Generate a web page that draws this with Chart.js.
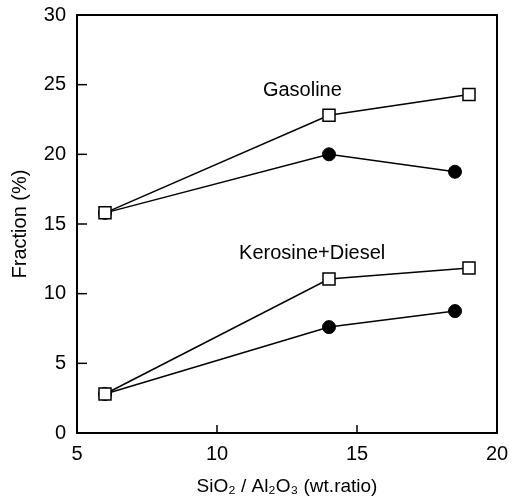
<!DOCTYPE html>
<html>
<head>
<meta charset="utf-8">
<script src="https://cdn.jsdelivr.net/npm/chart.js@4/dist/chart.umd.min.js"></script>
<style>
html,body{margin:0;padding:0;background:#fff;}
#wrap{width:512px;height:502px;}
</style>
</head>
<body>
<div id="wrap"><canvas id="c" width="512" height="502"></canvas></div>
<script>
// Data
const ratioA = [6, 14, 19];          // x for open-square series
const ratioB = [6, 14, 18.5];        // x for filled-circle series
const gasolineOpen = [15.8, 22.8, 24.3];
const gasolineFilled = [15.8, 20.0, 18.75];
const keroDieselOpen = [2.8, 11.05, 11.85];
const keroDieselFilled = [2.8, 7.6, 8.75];
const xTicks = [5, 10, 15, 20];
const yTicks = [0, 5, 10, 15, 20, 25, 30];
const labelsText = ["Gasoline", "Kerosine+Diesel"];
const labelsX = [13.05, 13.4];
const labelsY = [24.6, 12.9];

const pts = (xs, ys) => xs.map((x, i) => ({x: x, y: ys[i]}));
const FONT = "'Liberation Sans', Arial, sans-serif";

const openStyle = {
  borderColor: '#000', borderWidth: 1.5,
  pointStyle: 'rect', pointRadius: 8.5, pointHoverRadius: 8.5,
  pointBackgroundColor: '#fff', pointBorderColor: '#000', pointBorderWidth: 1.5,
  showLine: true, fill: false, tension: 0
};
const filledStyle = {
  borderColor: '#000', borderWidth: 1.5,
  pointStyle: 'circle', pointRadius: 6.5, pointHoverRadius: 6.5,
  pointBackgroundColor: '#000', pointBorderColor: '#000', pointBorderWidth: 1,
  showLine: true, fill: false, tension: 0
};

const framePlugin = {
  id: 'frame',
  afterDatasetsDraw(chart) {
    const {ctx, chartArea: a, scales} = chart;
    ctx.save();
    ctx.strokeStyle = '#000';
    ctx.lineWidth = 1.5;
    yTicks.forEach(v => {
      if (v === yTicks[0] || v === yTicks[yTicks.length - 1]) return;
      const y = scales.y.getPixelForValue(v);
      ctx.beginPath(); ctx.moveTo(a.left, y); ctx.lineTo(a.left + 10, y); ctx.stroke();
    });
    xTicks.forEach(v => {
      if (v === xTicks[0] || v === xTicks[xTicks.length - 1]) return;
      const x = scales.x.getPixelForValue(v);
      ctx.beginPath(); ctx.moveTo(x, a.bottom); ctx.lineTo(x, a.bottom - 8); ctx.stroke();
    });
    ctx.lineWidth = 2;
    ctx.strokeRect(a.left, a.top, a.right - a.left, a.bottom - a.top);
    ctx.fillStyle = '#000';
    ctx.font = '20px ' + FONT;
    ctx.textAlign = 'center';
    ctx.textBaseline = 'middle';
    labelsText.forEach((t, i) => {
      ctx.fillText(t, scales.x.getPixelForValue(labelsX[i]), scales.y.getPixelForValue(labelsY[i]));
    });
    ctx.restore();
  }
};

new Chart(document.getElementById('c'), {
  type: 'scatter',
  data: {
    datasets: [
      Object.assign({label: 'Gasoline (open)', data: pts(ratioA, gasolineOpen)}, openStyle),
      Object.assign({label: 'Kerosine+Diesel (open)', data: pts(ratioA, keroDieselOpen)}, openStyle),
      Object.assign({label: 'Gasoline (filled)', data: pts(ratioB, gasolineFilled)}, filledStyle),
      Object.assign({label: 'Kerosine+Diesel (filled)', data: pts(ratioB, keroDieselFilled)}, filledStyle)
    ]
  },
  options: {
    responsive: false,
    animation: false,
    events: [],
    layout: {padding: {top: 15, right: 15, left: 0, bottom: 0}},
    plugins: {legend: {display: false}, tooltip: {enabled: false}},
    scales: {
      x: {
        type: 'linear', min: 5, max: 20,
        afterBuildTicks: s => { s.ticks = xTicks.map(v => ({value: v})); },
        afterFit: s => { s.height = 69; s.paddingLeft = 0; s.paddingRight = 0; },
        grid: {display: false, drawTicks: false},
        border: {display: false},
        ticks: {color: '#000', font: {family: FONT, size: 20}, padding: 9, maxRotation: 0},
        title: {display: true, text: 'SiO₂ / Al₂O₃ (wt.ratio)', color: '#000',
                font: {family: FONT, size: 19}, padding: {top: 0, bottom: 4}}
      },
      y: {
        type: 'linear', min: 0, max: 30,
        afterBuildTicks: s => { s.ticks = yTicks.map(v => ({value: v})); },
        afterFit: s => { s.width = 77; s.paddingTop = 0; s.paddingBottom = 0; },
        grid: {display: false, drawTicks: false},
        border: {display: false},
        ticks: {color: '#000', font: {family: FONT, size: 20}, padding: 11},
        title: {display: true, text: 'Fraction (%)', color: '#000',
                font: {family: FONT, size: 20}, padding: {top: 8, bottom: 2}}
      }
    }
  },
  plugins: [framePlugin]
});
</script>
</body>
</html>
